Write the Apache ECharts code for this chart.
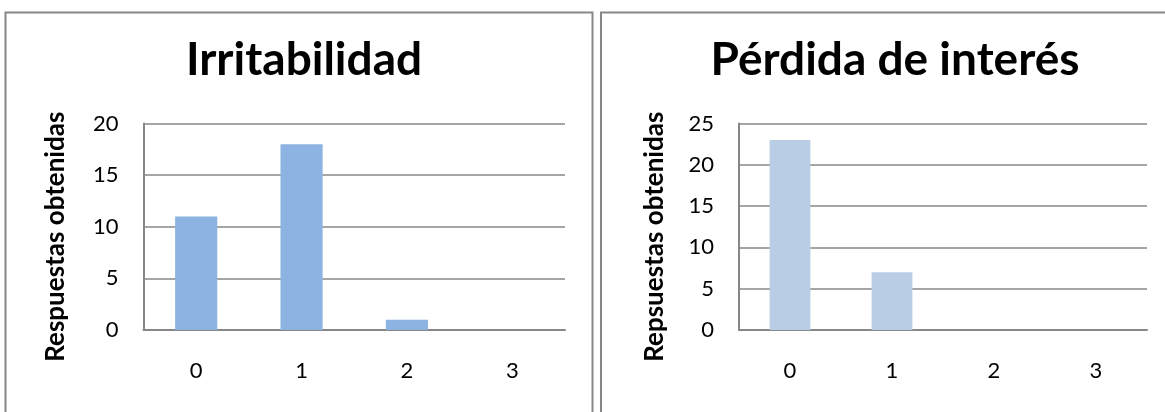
<!DOCTYPE html>
<html>
<head>
<meta charset="utf-8">
<script src="https://cdn.jsdelivr.net/npm/echarts@6/dist/echarts.min.js"></script>
<style>
  html, body { margin: 0; padding: 0; background: #fff; }
  #chart { width: 1165px; height: 412px; }
</style>
</head>
<body>
<div id="chart"></div>
<script>
// Answer categories shared by both panels
const categories = ['0', '1', '2', '3'];

// Irritabilidad
const irritabilidadTitle = 'Irritabilidad';
const irritabilidadAxisName = 'Respuestas obtenidas';
const irritabilidadValues = [11, 18, 1, 0];

// Pérdida de interés
const perdidaTitle = 'Pérdida de interés';
const perdidaAxisName = 'Repsuestas obtenidas';
const perdidaValues = [23, 7, 0, 0];

const FONT = 'Lato, "Open Sans", sans-serif';
const GRID_COLOR = '#878787';

function xAxis(gridIndex) {
  return {
    type: 'category', gridIndex, data: categories,
    axisLine: { lineStyle: { color: GRID_COLOR, width: 2 } },
    axisTick: { show: false },
    axisLabel: { color: '#000', fontFamily: FONT, fontSize: 22, margin: 30 }
  };
}

function yAxis(gridIndex, max, name, gap) {
  return {
    type: 'value', gridIndex, min: 0, max, interval: 5,
    name, nameLocation: 'middle', nameGap: gap, nameRotate: 90,
    // extra space at the end of the rotated name nudges it slightly downward
    nameTextStyle: { color: '#000', fontFamily: FONT, fontSize: 26, fontWeight: 'bold',
      padding: [0, 20, 0, 0] },
    axisLine: { show: true, lineStyle: { color: GRID_COLOR, width: 2 } },
    axisTick: { show: false },
    splitLine: { lineStyle: { color: GRID_COLOR, width: 1.5 } },
    axisLabel: { color: '#000', fontFamily: FONT, fontSize: 22, margin: 25 }
  };
}

const chart = echarts.init(document.getElementById('chart'), null, { renderer: 'canvas' });

chart.setOption({
  animation: false,
  backgroundColor: '#fff',
  title: [
    { text: irritabilidadTitle, left: 299, top: 32, textAlign: 'center',
      textStyle: { fontFamily: FONT, fontSize: 46, fontWeight: 'bold', color: '#000' } },
    { text: perdidaTitle, left: 890, top: 32, textAlign: 'center',
      textStyle: { fontFamily: FONT, fontSize: 46, fontWeight: 'bold', color: '#000' } }
  ],
  graphic: [
    { type: 'rect', shape: { x: 5.5, y: 12.5, width: 587, height: 420 },
      style: { fill: 'none', stroke: GRID_COLOR, lineWidth: 2 }, silent: true },
    { type: 'rect', shape: { x: 601, y: 12.5, width: 580, height: 420 },
      style: { fill: 'none', stroke: GRID_COLOR, lineWidth: 2 }, silent: true }
  ],
  grid: [
    { left: 143.5, top: 123.5, width: 421.5, height: 206.5, containLabel: false },
    { left: 739, top: 123.5, width: 408, height: 206.5, containLabel: false }
  ],
  xAxis: [xAxis(0), xAxis(1)],
  yAxis: [
    yAxis(0, 20, irritabilidadAxisName, 75),
    yAxis(1, 25, perdidaAxisName, 71)
  ],
  series: [
    { type: 'bar', xAxisIndex: 0, yAxisIndex: 0, data: irritabilidadValues,
      barWidth: '40%', itemStyle: { color: '#8DB3E2' } },
    { type: 'bar', xAxisIndex: 1, yAxisIndex: 1, data: perdidaValues,
      barWidth: '40%', itemStyle: { color: '#B9CDE5' } }
  ]
});
</script>
</body>
</html>
